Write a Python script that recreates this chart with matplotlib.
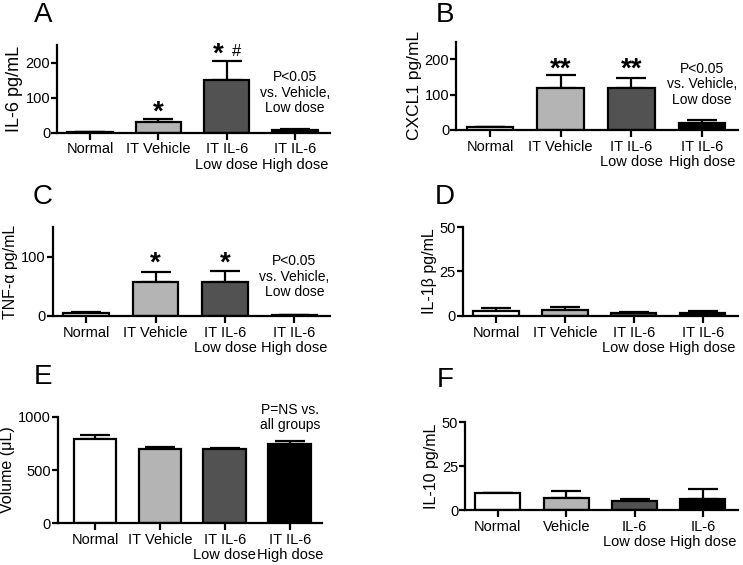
import numpy as np
import matplotlib
matplotlib.use("Agg")
import matplotlib.pyplot as plt

plt.rcParams['font.family'] = ['Liberation Sans', 'DejaVu Sans']

groups = ["Normal", "IT Vehicle", "IT IL-6\nLow dose", "IT IL-6\nHigh dose"]
groups_f = ["Normal", "Vehicle", "IL-6\nLow dose", "IL-6\nHigh dose"]
colors = ["white", "#b4b4b4", "#525252", "black"]

# means and SEM (upper bar only)
il6 = [1, 32, 152, 9]
il6_err = [1, 6, 53, 3]
cxcl1 = [7, 120, 118, 20]
cxcl1_err = [2, 35, 30, 8]
tnf = [5, 58, 57, 1]
tnf_err = [2, 16, 19, 1]
il1b = [2.5, 3.5, 1.5, 1.5]
il1b_err = [2.0, 1.3, 0.7, 1.0]
volume = [790, 700, 695, 750]
volume_err = [40, 20, 15, 20]
il10 = [9.5, 7, 5, 6.5]
il10_err = [0.5, 4, 1.5, 5.5]

note_p = "P<0.05\nvs. Vehicle,\nLow dose"
note_ns = "P=NS vs.\nall groups"

fig = plt.figure(figsize=(7.43, 5.65), dpi=100)


def panel(rect, vals, errs, ylim, yticks, ylabel, labels, ylsize=11, xlim=(-0.48, 3.51)):
    ax = fig.add_axes(rect)
    x = np.arange(len(vals))
    ax.bar(x, vals, width=0.66, color=colors, edgecolor="black", linewidth=1.6, zorder=2)
    ax.errorbar(x, vals, yerr=[np.zeros(len(errs)), errs], fmt="none", ecolor="black",
                elinewidth=1.6, capsize=11, capthick=1.6, zorder=1)
    ax.set_xlim(*xlim)
    ax.set_ylim(*ylim)
    ax.set_yticks(yticks)
    ax.set_xticks(x)
    ax.set_xticklabels(labels, fontsize=10.5, linespacing=1.1)
    ax.tick_params(axis="y", labelsize=10.5, length=4, width=1.6, pad=1)
    ax.tick_params(axis="x", length=5, width=1.6, pad=2)
    ax.set_ylabel(ylabel, fontsize=ylsize, labelpad=2)
    for s in ["top", "right"]:
        ax.spines[s].set_visible(False)
    for s in ["left", "bottom"]:
        ax.spines[s].set_linewidth(1.6)
    return ax


axA = panel([0.077, 0.765, 0.367, 0.155], il6, il6_err, (0, 250), [0, 100, 200], "IL-6 pg/mL", groups, 13)
axA.text(1, 58, "*", ha="center", va="center", fontsize=20, fontweight="bold")
axA.text(1.87, 224, "*", ha="center", va="center", fontsize=20, fontweight="bold")
axA.text(2.15, 232, "#", ha="center", va="center", fontsize=12)
axA.text(3, 114, note_p, ha="center", va="center", fontsize=10, linespacing=1.15)

axB = panel([0.614, 0.770, 0.379, 0.156], cxcl1, cxcl1_err, (0, 250), [0, 100, 200], "CXCL1 pg/mL", groups, 12.5)
for i in [1, 2]:
    axB.text(i, 172, "**", ha="center", va="center", fontsize=20, fontweight="bold")
axB.text(3, 129, note_p, ha="center", va="center", fontsize=10, linespacing=1.15)

axC = panel([0.071, 0.441, 0.373, 0.157], tnf, tnf_err, (0, 150), [0, 100], "TNF-α pg/mL", groups, 11.5)
for i in [1, 2]:
    axC.text(i, 88, "*", ha="center", va="center", fontsize=20, fontweight="bold")
axC.text(3, 66, note_p, ha="center", va="center", fontsize=10, linespacing=1.15)

axD = panel([0.623, 0.441, 0.370, 0.157], il1b, il1b_err, (0, 50), [0, 25, 50], "IL-1β pg/mL", groups, 11.5)

axE = panel([0.078, 0.074, 0.355, 0.188], volume, volume_err, (0, 1000), [0, 500, 1000], "Volume (μL)",
            groups, 11.5, xlim=(-0.57, 3.49))
axE.text(3, 995, note_ns, ha="center", va="center", fontsize=10, linespacing=1.15, clip_on=False)

axF = panel([0.626, 0.097, 0.367, 0.156], il10, il10_err, (0, 50), [0, 25, 50], "IL-10 pg/mL", groups_f, 11.5)

for lbl, (px, py) in zip("ABCDEF", [(43, 15), (445, 15), (43, 197), (445, 197), (43, 377), (445, 380)]):
    fig.text(px / 743, 1 - py / 565, lbl, ha="center", va="center", fontsize=20)

fig.savefig("out.png", dpi=100)
